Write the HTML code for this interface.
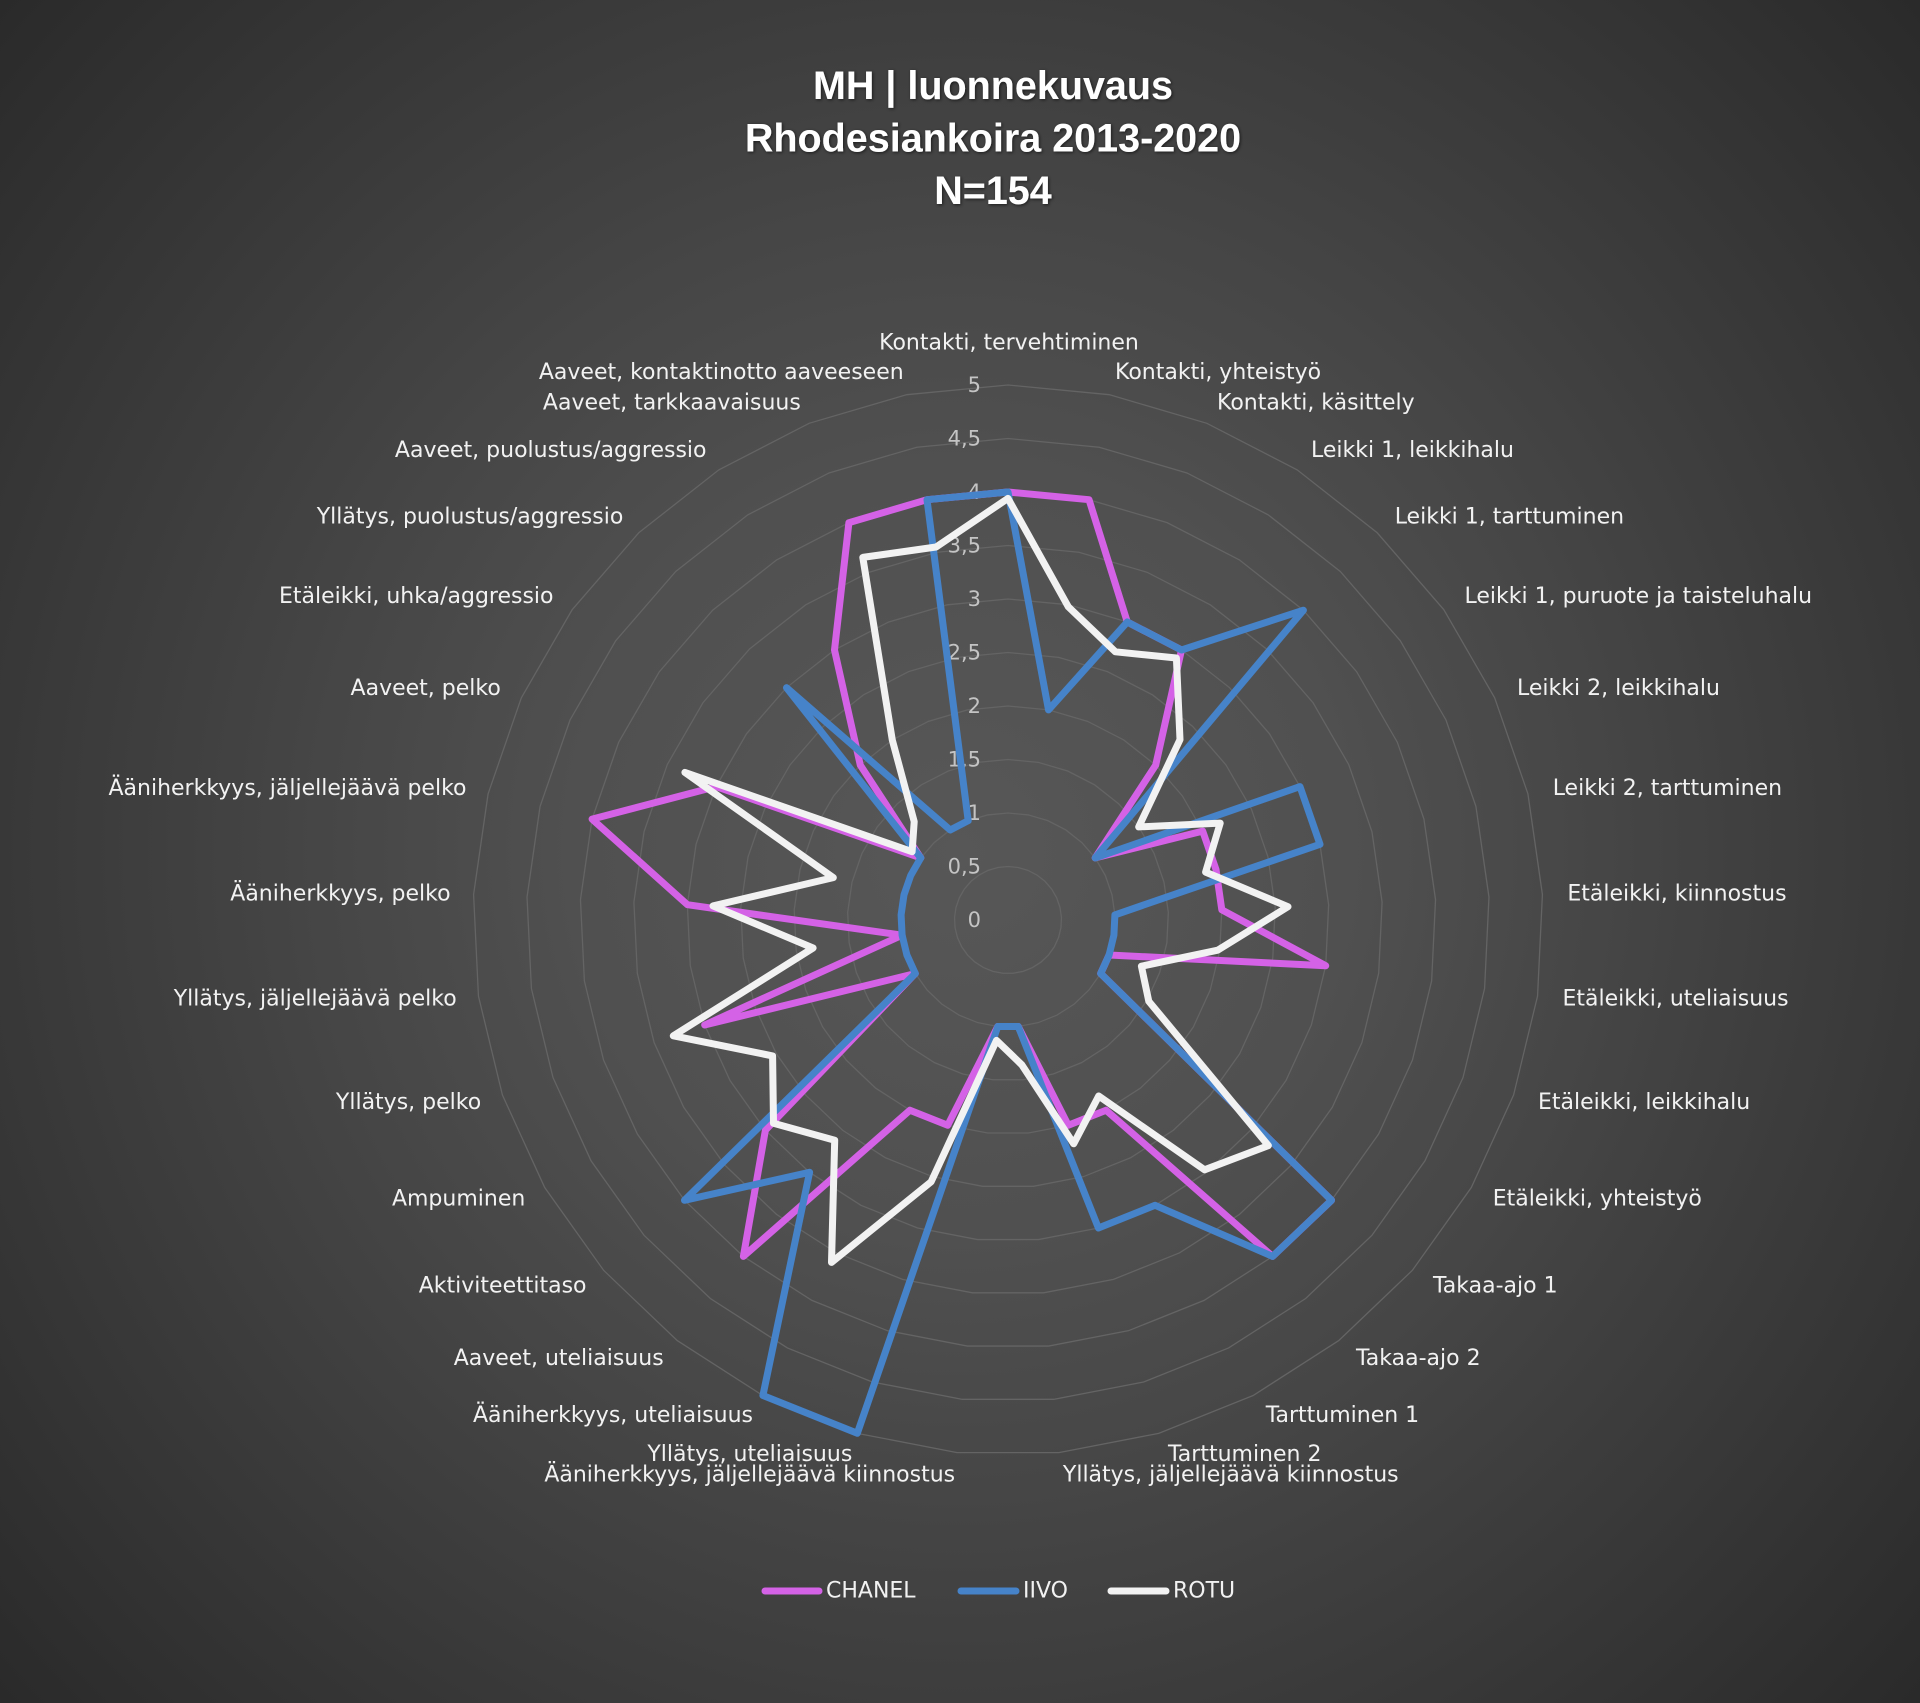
<!DOCTYPE html>
<html><head><meta charset="utf-8"><style>
html,body{margin:0;padding:0;background:#2a2a2a;}
svg{display:block;}
.lab{font-family:"DejaVu Sans","Liberation Sans",sans-serif;font-size:22px;fill:#f2f2f2;dominant-baseline:central;}
.tick{font-family:"DejaVu Sans","Liberation Sans",sans-serif;font-size:21px;fill:#c4c4c4;dominant-baseline:central;text-anchor:end;}
.title{font-family:"Liberation Sans",sans-serif;font-weight:bold;font-size:39.5px;fill:#ffffff;text-anchor:middle;}
</style></head><body>
<svg width="1920" height="1703" viewBox="0 0 1920 1703" xmlns="http://www.w3.org/2000/svg">
<defs>
<radialGradient id="bg" gradientUnits="userSpaceOnUse" cx="960" cy="851" r="1283">
<stop offset="0" stop-color="#575757"/>
<stop offset="0.3" stop-color="#505050"/>
<stop offset="0.5" stop-color="#464646"/>
<stop offset="0.75" stop-color="#383838"/>
<stop offset="1" stop-color="#2a2a2a"/>
</radialGradient>
<filter id="sh" x="-10%" y="-30%" width="120%" height="160%">
<feDropShadow dx="1" dy="1" stdDeviation="1.5" flood-color="#000" flood-opacity="0.6"/>
</filter>
<polygon id="ring" fill="none" stroke="#646464" stroke-width="1.3" vector-effect="non-scaling-stroke" points="0,-100 18.93,-98.19 37.17,-92.84 54.06,-84.13 69.01,-72.38 81.46,-58.01 90.96,-41.54 97.18,-23.58 99.89,-4.76 98.98,14.23 94.50,32.71 86.60,50 75.58,65.49 61.82,78.61 45.82,88.88 28.17,95.95 9.51,99.55 -9.51,99.55 -28.17,95.95 -45.82,88.88 -61.82,78.61 -75.58,65.49 -86.60,50 -94.50,32.71 -98.98,14.23 -99.89,-4.76 -97.18,-23.58 -90.96,-41.54 -81.46,-58.01 -69.01,-72.38 -54.06,-84.13 -37.17,-92.84 -18.93,-98.19"/>
</defs>
<rect x="0" y="0" width="1920" height="1703" fill="url(#bg)"/>

<g filter="url(#sh)">
<text class="title" x="993" y="99">MH | luonnekuvaus</text>
<text class="title" x="993" y="151.5">Rhodesiankoira 2013-2020</text>
<text class="title" x="993" y="204">N=154</text>
</g>

<g>
<use href="#ring" transform="translate(1008 920) scale(0.535)"/>
<use href="#ring" transform="translate(1008 920) scale(1.07)"/>
<use href="#ring" transform="translate(1008 920) scale(1.605)"/>
<use href="#ring" transform="translate(1008 920) scale(2.14)"/>
<use href="#ring" transform="translate(1008 920) scale(2.675)"/>
<use href="#ring" transform="translate(1008 920) scale(3.21)"/>
<use href="#ring" transform="translate(1008 920) scale(3.745)"/>
<use href="#ring" transform="translate(1008 920) scale(4.28)"/>
<use href="#ring" transform="translate(1008 920) scale(4.815)"/>
<use href="#ring" transform="translate(1008 920) scale(5.35)"/>
</g>

<g>
<text class="tick" x="981" y="920">0</text>
<text class="tick" x="981" y="866.5">0,5</text>
<text class="tick" x="981" y="813">1</text>
<text class="tick" x="981" y="759.5">1,5</text>
<text class="tick" x="981" y="706">2</text>
<text class="tick" x="981" y="652.5">2,5</text>
<text class="tick" x="981" y="599">3</text>
<text class="tick" x="981" y="545.5">3,5</text>
<text class="tick" x="981" y="492">4</text>
<text class="tick" x="981" y="438.5">4,5</text>
<text class="tick" x="981" y="385">5</text>
</g>

<g fill="none" stroke-width="7" stroke-linejoin="round">
<polygon stroke="#d462e6" points="1008,492 1089.0,499.7 1127.3,622.0 1181.5,650.0 1155.7,765.1 1095.2,857.9 1202.7,831.1 1216.0,869.5 1221.8,909.8 1325.7,965.7 1109.1,955.0 1100.7,973.5 1331.5,1200.3 1272.6,1256.4 1106.1,1110.2 1068.3,1125.3 1018.2,1026.5 997.8,1026.5 947.7,1125.3 909.9,1110.2 743.4,1256.4 765.4,1130.2 915.3,973.5 704.7,1025.0 902.1,935.2 687.4,904.7 592.1,819.1 716.0,786.6 920.8,857.9 860.3,765.1 834.5,650.0 848.9,522.7 927.0,499.7"/>
<polygon stroke="#4683c9" points="1008,492 1048.5,709.9 1127.3,622.0 1181.5,650.0 1303.4,610.2 1095.2,857.9 1300.0,786.6 1320.0,844.3 1114.9,914.9 1113.9,935.2 1109.1,955.0 1100.7,973.5 1331.5,1200.3 1272.6,1256.4 1155.1,1205.3 1098.4,1228.0 1018.2,1026.5 997.8,1026.5 857.3,1433.3 762.9,1395.5 809.6,1172.3 684.5,1200.3 915.3,973.5 906.9,955.0 902.1,935.2 901.1,914.9 904.0,894.8 910.7,875.5 920.8,857.9 786.5,687.7 950.2,830.0 968.2,820.7 927.0,499.7"/>
<polygon stroke="#f2f2f2" points="1008,498.4 1068.4,606.9 1115.4,651.8 1176.4,658.0 1180.0,739.6 1138.7,826.9 1220.2,823.1 1205.6,872.1 1288.0,906.7 1217.7,950.2 1141.4,966.2 1148.8,1001.3 1268.4,1145.6 1204.5,1169.8 1098.7,1096.0 1073.7,1143.8 1021.8,1064.8 996.5,1040.4 931.1,1181.8 831.5,1262.4 834.7,1140.3 773.5,1123.2 772.6,1055.9 673.3,1035.8 813.1,948.0 713.0,905.9 833.3,877.6 684.9,772.4 912.1,851.7 914.2,821.6 892.3,740.0 862.8,557.4 936.1,547.0"/>
</g>

<g class="lab">
<text class="lab" x="1009" y="343" text-anchor="middle">Kontakti, tervehtiminen</text>
<text class="lab" x="1115" y="372.5">Kontakti, yhteistyö</text>
<text class="lab" x="1217" y="403">Kontakti, käsittely</text>
<text class="lab" x="1311" y="450.7">Leikki 1, leikkihalu</text>
<text class="lab" x="1394.7" y="517">Leikki 1, tarttuminen</text>
<text class="lab" x="1464.5" y="596.3">Leikki 1, puruote ja taisteluhalu</text>
<text class="lab" x="1517" y="688.6">Leikki 2, leikkihalu</text>
<text class="lab" x="1552.7" y="788.5">Leikki 2, tarttuminen</text>
<text class="lab" x="1567.4" y="893.9">Etäleikki, kiinnostus</text>
<text class="lab" x="1562.5" y="999.2">Etäleikki, uteliaisuus</text>
<text class="lab" x="1538" y="1102.4">Etäleikki, leikkihalu</text>
<text class="lab" x="1492.7" y="1199">Etäleikki, yhteistyö</text>
<text class="lab" x="1433" y="1286">Takaa-ajo 1</text>
<text class="lab" x="1356" y="1358.7">Takaa-ajo 2</text>
<text class="lab" x="1265.7" y="1415.5">Tarttuminen 1</text>
<text class="lab" x="1168" y="1454.5">Tarttuminen 2</text>
<text class="lab" x="1062.9" y="1475">Yllätys, jäljellejäävä kiinnostus</text>
<text class="lab" x="955.1" y="1475" text-anchor="end">Ääniherkkyys, jäljellejäävä kiinnostus</text>
<text class="lab" x="852.3" y="1454.5" text-anchor="end">Yllätys, uteliaisuus</text>
<text class="lab" x="753" y="1415.5" text-anchor="end">Ääniherkkyys, uteliaisuus</text>
<text class="lab" x="663.7" y="1358.7" text-anchor="end">Aaveet, uteliaisuus</text>
<text class="lab" x="586.5" y="1286" text-anchor="end">Aktiviteettitaso</text>
<text class="lab" x="525.3" y="1199" text-anchor="end">Ampuminen</text>
<text class="lab" x="481.2" y="1102.4" text-anchor="end">Yllätys, pelko</text>
<text class="lab" x="456.7" y="999.2" text-anchor="end">Yllätys, jäljellejäävä pelko</text>
<text class="lab" x="450.6" y="893.9" text-anchor="end">Ääniherkkyys, pelko</text>
<text class="lab" x="466.5" y="788.5" text-anchor="end">Ääniherkkyys, jäljellejäävä pelko</text>
<text class="lab" x="500.8" y="688.6" text-anchor="end">Aaveet, pelko</text>
<text class="lab" x="553.5" y="596.3" text-anchor="end">Etäleikki, uhka/aggressio</text>
<text class="lab" x="623.3" y="517" text-anchor="end">Yllätys, puolustus/aggressio</text>
<text class="lab" x="706.5" y="450.7" text-anchor="end">Aaveet, puolustus/aggressio</text>
<text class="lab" x="800.8" y="403" text-anchor="end">Aaveet, tarkkaavaisuus</text>
<text class="lab" x="903.7" y="372.5" text-anchor="end">Aaveet, kontaktinotto aaveeseen</text>
</g>

<g stroke-width="7" stroke-linecap="round">
<line x1="765" y1="1591" x2="819" y2="1591" stroke="#d462e6"/>
<line x1="961" y1="1591" x2="1016" y2="1591" stroke="#4683c9"/>
<line x1="1111" y1="1591" x2="1166" y2="1591" stroke="#f2f2f2"/>
</g>
<text class="lab" x="826" y="1591">CHANEL</text>
<text class="lab" x="1023" y="1591">IIVO</text>
<text class="lab" x="1173" y="1591">ROTU</text>
</svg>
</body></html>
